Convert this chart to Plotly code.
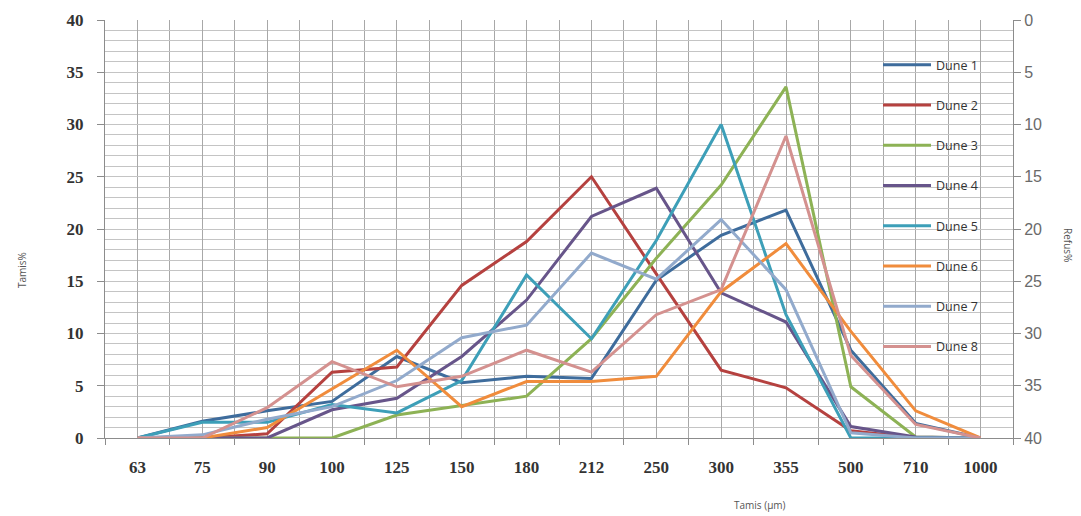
import plotly.graph_objects as go

sieves = ["63", "75", "90", "100", "125", "150", "180", "212", "250", "300", "355", "500", "710", "1000"]

dune1 = [0, 1.6, 2.6, 3.5, 7.8, 5.3, 5.9, 5.7, 15.1, 19.4, 21.8, 8.4, 1.4, 0]
dune2 = [0, 0, 0.4, 6.3, 6.8, 14.6, 18.8, 25.0, 15.7, 6.5, 4.8, 0.7, 0, 0]
dune3 = [0, 0, 0, 0, 2.2, 3.1, 4.0, 9.5, 17.2, 24.2, 33.6, 4.9, 0.1, 0]
dune4 = [0, 0, 0, 2.7, 3.8, 7.8, 13.2, 21.2, 23.9, 13.9, 11.1, 1.1, 0.1, 0]
dune5 = [0, 1.5, 1.5, 3.2, 2.4, 5.5, 15.6, 9.5, 18.9, 30.0, 11.8, 0, 0, 0]
dune6 = [0, 0, 1.0, 4.7, 8.4, 3.0, 5.4, 5.4, 5.9, 14.0, 18.6, 10.2, 2.6, 0]
dune7 = [0, 0.3, 1.8, 3.0, 5.5, 9.6, 10.8, 17.7, 15.2, 20.9, 14.2, 0.5, 0, 0]
dune8 = [0, 0, 2.9, 7.3, 4.9, 5.9, 8.4, 6.3, 11.8, 14.2, 28.9, 7.9, 1.3, 0]

names = ["Dune 1", "Dune 2", "Dune 3", "Dune 4", "Dune 5", "Dune 6", "Dune 7", "Dune 8"]
series = [dune1, dune2, dune3, dune4, dune5, dune6, dune7, dune8]
colors = ["#3E6C9C", "#B5413F", "#8DB255", "#67558A", "#3D9FB8", "#F08C3C", "#92AACC", "#D4918F"]

xpos = list(range(len(sieves)))

# page is offset by the default 8px body margin
OFF = 8
W, H = 1081 - OFF, 516 - OFF
PL, PR, PT, PB = 105, 1013, 20, 438  # plot area in page pixels
ml, mt = PL - OFF, PT - OFF
mr = W - (PR - OFF)
mb = H - (PB - OFF)
pw, ph = PR - PL, PB - PT


def px(xp):
    return (xp - PL) / pw


def py(yp):
    return (PB - yp) / ph


fig = go.Figure()
for name, vals, col in zip(names, series, colors):
    fig.add_trace(go.Scatter(
        x=xpos, y=vals, mode="lines", name=name, legendgroup=name,
        line=dict(color=col, width=3),
    ))

grid_h = "#C4C4C4"
grid_v = "#A8A8A8"
tickfont = dict(family="Liberation Serif", size=17, color="#333333", weight="bold")
titlefont = dict(family="Open Sans", size=10, color="#555555")

fig.update_layout(
    width=W, height=H,
    margin=dict(l=ml, r=mr, t=mt, b=mb, autoexpand=False),
    paper_bgcolor="white", plot_bgcolor="white",
    showlegend=True,
    legend=dict(
        x=px(878), xanchor="left", y=py(50), yanchor="top",
        font=dict(family="Open Sans", size=12.5, color="#333333"),
        bgcolor="rgba(255,255,255,0)",
        tracegroupgap=21, itemwidth=48,
    ),
    xaxis=dict(
        range=[-0.5, len(sieves) - 0.5],
        tickmode="array", tickvals=xpos, ticktext=sieves,
        ticks="", showgrid=True, gridcolor=grid_v, gridwidth=1,
        tickfont=tickfont, showline=True, linecolor="#8C8C8C",
        zeroline=False, ticklabelstandoff=14,
        minor=dict(tickmode="array", tickvals=[i - 0.5 for i in range(len(sieves) + 1)],
                   showgrid=True, gridcolor=grid_v, ticks="outside", ticklen=6,
                   tickcolor="#8C8C8C"),
    ),
    yaxis=dict(
        range=[0, 40], dtick=5, tick0=0,
        ticks="outside", ticklen=7, tickcolor="#8C8C8C",
        showgrid=True, gridcolor=grid_h, zeroline=False,
        showline=True, linecolor="#8C8C8C",
        tickfont=tickfont, ticklabelstandoff=10,
        minor=dict(dtick=1, showgrid=True, gridcolor=grid_h),
    ),
    yaxis2=dict(
        overlaying="y", side="right", range=[40, 0], dtick=5, tick0=0,
        ticks="outside", ticklen=7, tickcolor="#8C8C8C",
        showgrid=False, zeroline=False, showline=True, linecolor="#8C8C8C",
        tickfont=dict(family="Liberation Sans", size=16, color="#6A6A6A"),
    ),
    annotations=[
        dict(text="Tamis%", x=px(22), y=py(270), xref="paper", yref="paper", showarrow=False,
             xanchor="center", yanchor="middle", textangle=-90, font=titlefont),
        dict(text="Refus%", x=px(1068), y=py(245), xref="paper", yref="paper", showarrow=False,
             xanchor="center", yanchor="middle", textangle=90, font=titlefont),
        dict(text="Tamis (µm)", x=px(760), y=py(505), xref="paper", yref="paper", showarrow=False,
             xanchor="center", yanchor="middle", font=titlefont),
    ],
)

fig.add_trace(go.Scatter(x=[None], y=[None], yaxis="y2", showlegend=False, hoverinfo="skip"))

fig.write_html("out.html")
